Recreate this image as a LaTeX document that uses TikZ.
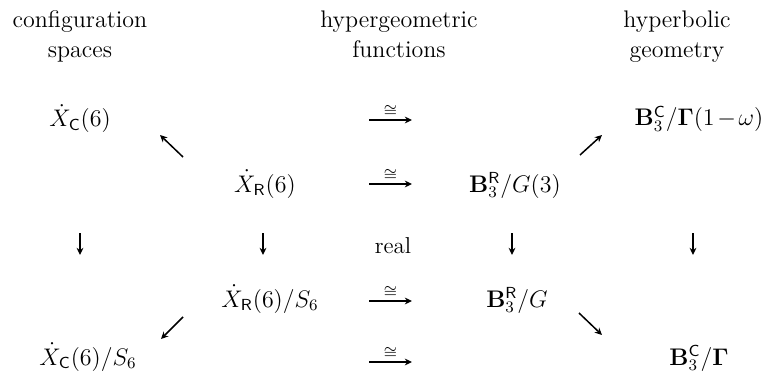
\documentclass[tikz,border=0pt]{standalone}
\usepackage{amsmath,amssymb}
\usepackage{tikz}
\usetikzlibrary{arrows.meta}

\tikzset{
  obj/.style={inner sep=0pt, anchor=base, font=\fontsize{11.5}{14}\selectfont},
  head/.style={inner sep=0pt, anchor=north, align=center, font=\fontsize{12}{15}\selectfont},
  map/.style={-{Stealth[length=3.6pt,width=3.4pt]}, line width=0.75pt},
  iso/.style={above=1.5pt, inner sep=0pt, midway, font=\fontsize{11}{13}\selectfont},
}

\begin{document}
\begin{tikzpicture}[x=0.5pt, y=-0.5pt]
    \useasboundingbox (0,0) rectangle (761,374);
    % headings
    \node[head](hconf) at (80,10) {configuration\\spaces};
    \node[head](hhyp) at (399,10) {hypergeometric\\functions};
    \node[head](hgeo) at (677,10) {hyperbolic\\geometry};
    % objects
    \node[obj](xc) at (80,127) {$\dot{X}_{\mathsf{C}}(6)$};
    \node[obj](bc) at (699,126) {$\mathbf{B}^{\mathsf{C}}_{3}/\mathbf{\Gamma}(1\mkern-2mu-\mkern-2mu\omega)$};
    \node[obj](xr) at (265,192) {$\dot{X}_{\mathsf{R}}(6)$};
    \node[obj](br) at (515,192) {$\mathbf{B}^{\mathsf{R}}_{3}/G(3)$};
    \node[obj](real) at (393,253) {real};
    \node[obj](xrs) at (270,307) {$\dot{X}_{\mathsf{R}}(6)/S_{6}$};
    \node[obj](brg) at (517,307) {$\mathbf{B}^{\mathsf{R}}_{3}/G$};
    \node[obj](xcs) at (88,365) {$\dot{X}_{\mathsf{C}}(6)/S_{6}$};
    \node[obj](bcg) at (699,365) {$\mathbf{B}^{\mathsf{C}}_{3}/\mathbf{\Gamma}$};
    % arrow ends
    \coordinate (h1a) at (369,120); \coordinate (h1b) at (412,120);
    \coordinate (h2a) at (369,184); \coordinate (h2b) at (412,184);
    \coordinate (h3a) at (369,301); \coordinate (h3b) at (412,301);
    \coordinate (h4a) at (369,362); \coordinate (h4b) at (412,362);
    \coordinate (d1a) at (80,233); \coordinate (d1b) at (80,255);
    \coordinate (d2a) at (263,233); \coordinate (d2b) at (263,255);
    \coordinate (d4a) at (512,233); \coordinate (d4b) at (512,255);
    \coordinate (d5a) at (693,233); \coordinate (d5b) at (693,255);
    \coordinate (ula) at (183,157); \coordinate (ulb) at (160,135);
    \coordinate (ura) at (580,155); \coordinate (urb) at (602,135);
    \coordinate (dla) at (183,317); \coordinate (dlb) at (161,339);
    \coordinate (dra) at (579,313); \coordinate (drb) at (602,335);
    % isomorphisms
    \draw[map](h1a)--node[iso]{$\scriptstyle\cong$}(h1b);
    \draw[map](h2a)--node[iso]{$\scriptstyle\cong$}(h2b);
    \draw[map](h3a)--node[iso]{$\scriptstyle\cong$}(h3b);
    \draw[map](h4a)--node[iso]{$\scriptstyle\cong$}(h4b);
    % vertical maps
    \draw[map](d1a)--(d1b);
    \draw[map](d2a)--(d2b);
    \draw[map](d4a)--(d4b);
    \draw[map](d5a)--(d5b);
    % diagonal maps
    \draw[map](ula)--(ulb);
    \draw[map](ura)--(urb);
    \draw[map](dla)--(dlb);
    \draw[map](dra)--(drb);
\end{tikzpicture}
\end{document}
